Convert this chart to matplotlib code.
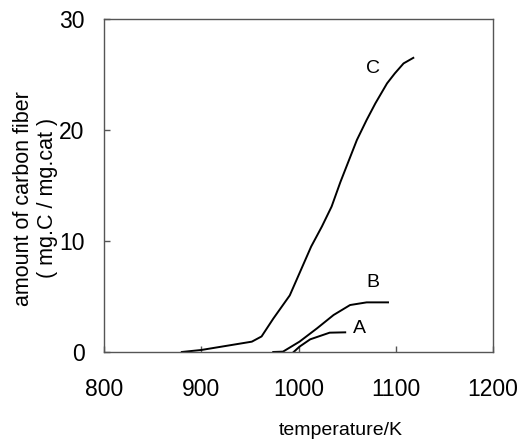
import matplotlib.pyplot as plt

# curve C
c_temp = [880, 900, 952, 962, 974, 991, 1001, 1013, 1024, 1034, 1043, 1060, 1070, 1079, 1091, 1099, 1108, 1118]
c_amount = [0.0, 0.18, 0.93, 1.4, 3.0, 5.1, 7.1, 9.5, 11.3, 13.1, 15.3, 19.1, 20.9, 22.4, 24.2, 25.1, 26.0, 26.5]

# curve B
b_temp = [974, 984, 1001, 1019, 1036, 1053, 1070, 1092]
b_amount = [0.0, 0.03, 0.93, 2.13, 3.33, 4.23, 4.47, 4.47]

# curve A
a_temp = [995, 1001, 1012, 1032, 1048]
a_amount = [0.0, 0.48, 1.14, 1.74, 1.77]

labels = ['A', 'B', 'C']
label_pos = [(1063, 2.1), (1076, 6.3), (1077, 25.5)]

plt.rcParams['font.family'] = ['Liberation Sans', 'DejaVu Sans']

fig = plt.figure(figsize=(5.19, 4.46), dpi=100)
ax = fig.add_axes([0.2004, 0.2108, 0.7496, 0.7466])

for t, a in [(a_temp, a_amount), (b_temp, b_amount), (c_temp, c_amount)]:
    ax.plot(t, a, color='black', lw=1.4)

for lab, (x, y) in zip(labels, label_pos):
    ax.text(x, y, lab, fontsize=14, ha='center', va='center')

ax.set_xlim(800, 1200)
ax.set_ylim(0, 30)
ax.set_xticks([800, 900, 1000, 1100, 1200])
ax.set_yticks([0, 10, 20, 30])
ax.tick_params(direction='in', length=4, width=1, color='#555555', labelsize=16.5)
ax.tick_params(axis='y', pad=14)
ax.tick_params(axis='x', pad=19)
for s in ax.spines.values():
    s.set_color('#555555')
    s.set_linewidth(1)

ax.set_xlabel('temperature/K', fontsize=14)
ax.xaxis.set_label_coords(0.609, -0.237)
ax.xaxis.label.set_va('center')
ax.set_ylabel('amount of carbon fiber\n( mg.C / mg.cat )', fontsize=15.5, linespacing=1.2)
ax.yaxis.set_label_coords(-0.177, 0.462)
ax.yaxis.label.set_va('center')

fig.savefig('out.png', dpi=100)
